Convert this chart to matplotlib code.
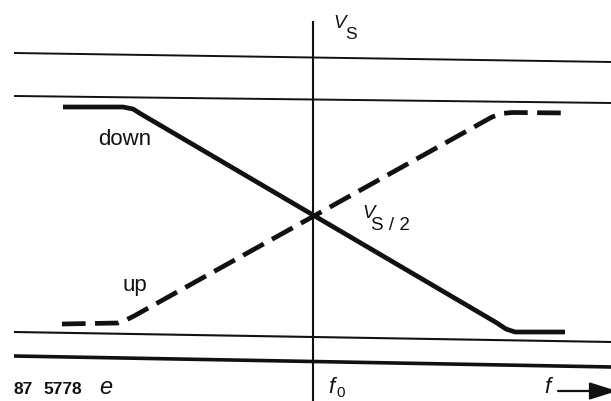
import matplotlib
matplotlib.use("Agg")
import matplotlib.pyplot as plt

# units: x = frequency offset from f0, y = output level (arbitrary units)
down_x = [-2.50, -1.90, -1.80, -1.72, 1.84, 1.93, 2.02, 2.52]
down_y = [2.53, 2.53, 2.51, 2.46, 0.37, 0.31, 0.28, 0.28]

up_x = [-2.51, -1.95, -1.87, -1.79, 1.79, 1.89, 1.99, 2.54]
up_y = [0.36, 0.37, 0.40, 0.44, 2.43, 2.465, 2.475, 2.47]

# horizontal reference levels (left end, right end) - scan is slightly tilted
level_x = [-2.99, 2.99]
levels = [
    ([3.07, 2.98], 1.4),
    ([2.64, 2.57], 1.4),
    ([0.28, 0.18], 1.5),
    ([0.04, -0.07], 2.6),
]
f0_axis_y = [3.38, -0.45]

plt.rcParams['font.family'] = ['Liberation Sans', 'DejaVu Sans']

fig = plt.figure(figsize=(6.11, 4.01), dpi=100)
ax = fig.add_axes([0, 0, 1, 1])
ax.set_xlim(-3.13, 2.98)
ax.set_ylim(-0.41, 3.60)
ax.axis('off')

ink = '#111111'

for ys, lw in levels:
    ax.plot(level_x, ys, color=ink, lw=lw, solid_capstyle='butt')

ax.plot([0, 0], f0_axis_y, color=ink, lw=1.5)

ax.plot(down_x, down_y, color=ink, lw=3.4, solid_joinstyle='round',
        solid_capstyle='butt')
ax.plot(up_x, up_y, color=ink, lw=3.4, dashes=(5, 2),
        dash_capstyle='butt', dash_joinstyle='round')

# labels
ax.text(0.20, 3.32, "V", fontsize=13.5, style='italic', color=ink)
ax.text(0.32, 3.21, "S", fontsize=12.5, color=ink)

ax.text(0.49, 1.42, "V", fontsize=13.5, style='italic', color=ink)
ax.text(0.58, 1.30, "S / 2", fontsize=13.5, color=ink)

ax.text(-2.15, 2.15, "down", fontsize=16, color=ink)
ax.text(-1.90, 0.69, "up", fontsize=16, color=ink)

ax.text(-2.99, -0.34, "87", fontsize=12.5, fontweight='bold', color=ink)
ax.text(-2.70, -0.34, "5778", fontsize=12.5, fontweight='bold', color=ink)
ax.text(-2.14, -0.34, "e", fontsize=17, style='italic', color=ink)

ax.text(0.15, -0.33, "f", fontsize=16, style='italic', color=ink)
ax.text(0.23, -0.37, "0", fontsize=11, color=ink)

ax.text(2.31, -0.33, "f", fontsize=16, style='italic', color=ink)
ax.annotate("", xy=(3.04, -0.31), xytext=(2.45, -0.31),
            arrowprops=dict(arrowstyle='-|>,head_length=1.2,head_width=0.38',
                            color=ink, lw=1.6, mutation_scale=14,
                            shrinkA=0, shrinkB=0),
            annotation_clip=False)

fig.savefig("out.png", dpi=100, facecolor='white')
